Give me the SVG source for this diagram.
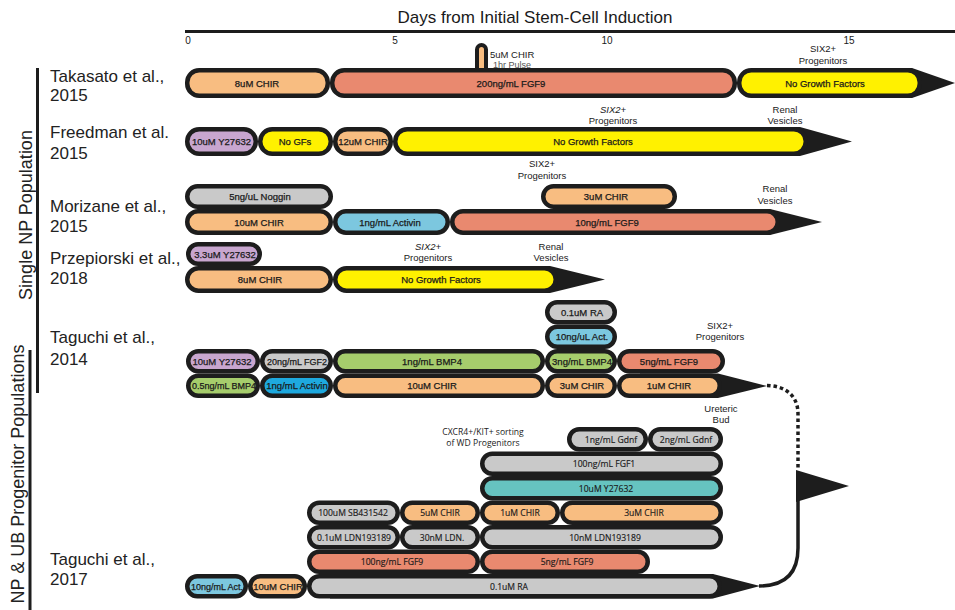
<svg xmlns="http://www.w3.org/2000/svg" width="955" height="610" viewBox="0 0 955 610">
<style>
.p{stroke:#1d1d1d;stroke-width:4.5}
.or{fill:#f8bd81}.sa{fill:#e9896f}.ye{fill:#fff100}.gr{fill:#c9c9c9}.pu{fill:#c8a6cf}
.lb{fill:#7cc7df}.bb{fill:#1ea9df}.gn{fill:#a6cd6c}.te{fill:#66c3c0}
.ar{fill:#1d1d1d}
text{font-family:"Liberation Sans",Arial,sans-serif;fill:#1a1a1a}
.t{font-size:9.5px;text-anchor:middle;stroke:#1a1a1a;stroke-width:0.25}
.ts{font-size:9px;text-anchor:middle;stroke:#1a1a1a;stroke-width:0.25}
.tm{font-family:"Open Sans","Liberation Sans",sans-serif;font-size:8.6px;text-anchor:middle;stroke:#1a1a1a;stroke-width:0.15}
.an{font-size:9.5px;text-anchor:middle}
.st{font-size:17px;fill:#222}
.sd{font-size:18px;fill:#222;text-anchor:middle}
.tk{font-size:10px;text-anchor:middle}
.ln{stroke:#1d1d1d;stroke-width:3;fill:none}
</style>

<!-- axis -->
<g id="axis">
<text x="535" y="23" style="font-size:17px;text-anchor:middle">Days from Initial Stem-Cell Induction</text>
<line x1="185" y1="31.5" x2="955" y2="31.5" class="ln"/>
<text class="tk" x="188" y="44">0</text>
<text class="tk" x="395" y="44">5</text>
<text class="tk" x="607" y="44">10</text>
<text class="tk" x="849" y="44">15</text>
</g>

<!-- side brackets -->
<g id="groups">
<line x1="37.5" y1="68" x2="37.5" y2="393" class="ln"/>
<line x1="30" y1="350" x2="30" y2="610" class="ln"/>
<text class="sd" transform="translate(32,215) rotate(-90)">Single NP Population</text>
<text class="sd" transform="translate(24,474) rotate(-90)">NP &amp; UB Progenitor Populations</text>
</g>

<!-- study labels -->
<g id="studies">
<text class="st" x="50" y="82">Takasato et al.,</text><text class="st" x="50" y="101">2015</text>
<text class="st" x="50" y="138">Freedman et al.</text><text class="st" x="50" y="159">2015</text>
<text class="st" x="50" y="211.5">Morizane et al.,</text><text class="st" x="50" y="232">2015</text>
<text class="st" x="50" y="264">Przepiorski et al.,</text><text class="st" x="50" y="284">2018</text>
<text class="st" x="50" y="343">Taguchi et al.,</text><text class="st" x="50" y="365">2014</text>
<text class="st" x="50" y="565">Taguchi et al.,</text><text class="st" x="50" y="585">2017</text>
</g>

<!-- timeline arrowheads -->
<g id="timeline-arrows">
<path class="ar" d="M760 68 L912 68 L955 83 L912 98 L760 98 Z"/>
<path class="ar" d="M420 127 L800 127 L852 141.5 L800 156 L420 156 Z"/>
<path class="ar" d="M470 209 L770 209 L822 222 L770 235 L470 235 Z"/>
<path class="ar" d="M350 266 L550 266 L605 279.5 L550 293 L350 293 Z"/>
<path class="ar" d="M640 373.5 L718 373.5 L767 386 L718 398 L640 398 Z"/>
<path class="ar" d="M330 574 L713 574 L760 586 L713 598.5 L330 598.5 Z"/>
</g>

<!-- connectors -->
<g id="connectors">
<path d="M767 385.5 C786 386 798 396 798 414 L798 470" fill="none" stroke="#1d1d1d" stroke-width="3.5" stroke-dasharray="3.5 3"/>
<path d="M759 586 C786 586 798 572 798 548 L798 498" class="ln" style="stroke-width:3.5"/>
<path class="ar" d="M796 470 L849 486 L796 502 Z"/>
</g>

<!-- Takasato 2015 -->
<g id="tak-pulse"><rect class="p or" x="477" y="45" width="9" height="32" rx="4.5" style="stroke-width:4"/>
<text x="490" y="57.5" style="font-size:9.5px">5uM CHIR</text><text x="493" y="67.5" style="font-size:9px;fill:#555">1hr Pulse</text></g>
<g id="tak-chir"><rect class="p or" x="187.25" y="70.25" width="140.5" height="25.5" rx="12"/><text class="t" x="257" y="86.5">8uM CHIR</text></g>
<g id="tak-fgf9"><rect class="p sa" x="332.25" y="70.25" width="402.5" height="25.5" rx="12"/><text class="t" x="511" y="86.5">200ng/mL FGF9</text></g>
<g id="tak-ngf"><rect class="p ye" x="739.25" y="70.25" width="180.5" height="25.5" rx="12"/><text class="t" x="825" y="86.5">No Growth Factors</text></g>
<g id="tak-ann"><text class="an" x="823" y="52">SIX2+</text><text class="an" x="823" y="63.5">Progenitors</text></g>

<!-- Freedman 2015 -->
<g id="fre-y"><rect class="p pu" x="187.25" y="129.25" width="68.5" height="24.5" rx="12"/><text class="t" x="221.5" y="145">10uM Y27632</text></g>
<g id="fre-nogf"><rect class="p ye" x="260.25" y="129.25" width="70.5" height="24.5" rx="12"/><text class="t" x="295" y="145">No GFs</text></g>
<g id="fre-chir"><rect class="p or" x="335.25" y="129.25" width="55.5" height="24.5" rx="12"/><text class="t" x="363" y="145">12uM CHIR</text></g>
<g id="fre-ngf"><rect class="p ye" x="395.25" y="129.25" width="410.5" height="24.5" rx="12"/><text class="t" x="593" y="145">No Growth Factors</text></g>
<g id="fre-ann"><text class="an" x="613" y="113" font-style="italic">SIX2+</text><text class="an" x="613" y="124">Progenitors</text>
<text class="an" x="785" y="113">Renal</text><text class="an" x="785" y="124">Vesicles</text></g>

<!-- Morizane 2015 -->
<g id="mor-noggin"><rect class="p gr" x="187.25" y="186.25" width="143.5" height="20.5" rx="10.25"/><text class="t" x="260" y="200">5ng/uL Noggin</text></g>
<g id="mor-3chir"><rect class="p or" x="543.25" y="186.25" width="131.5" height="20.5" rx="10.25"/><text class="t" x="606" y="200">3uM CHIR</text></g>
<g id="mor-chir"><rect class="p or" x="187.25" y="211.25" width="143.5" height="21.5" rx="10.75"/><text class="t" x="259" y="225.5">10uM CHIR</text></g>
<g id="mor-act"><rect class="p lb" x="335.25" y="211.25" width="112.5" height="21.5" rx="10.75"/><text class="t" x="390" y="225.5">1ng/mL Activin</text></g>
<g id="mor-fgf9"><rect class="p sa" x="452.25" y="211.25" width="325.5" height="21.5" rx="10.75"/><text class="t" x="607" y="225.5">10ng/mL FGF9</text></g>
<g id="mor-ann"><text class="an" x="542" y="167">SIX2+</text><text class="an" x="542" y="179">Progenitors</text>
<text class="an" x="775" y="192">Renal</text><text class="an" x="775" y="203.5">Vesicles</text></g>

<!-- Przepiorski 2018 -->
<g id="prz-y"><rect class="p pu" x="188.25" y="244.25" width="71.5" height="19.5" rx="9.75"/><text class="t" x="225" y="257.5">3.3uM Y27632</text></g>
<g id="prz-chir"><rect class="p or" x="187.25" y="268.25" width="143.5" height="22.5" rx="11.25"/><text class="t" x="260" y="283">8uM CHIR</text></g>
<g id="prz-ngf"><rect class="p ye" x="335.25" y="268.25" width="220.5" height="22.5" rx="11.25"/><text class="t" x="441" y="283">No Growth Factors</text></g>
<g id="prz-ann"><text class="an" x="428" y="249.5" font-style="italic">SIX2+</text><text class="an" x="428" y="261">Progenitors</text>
<text class="an" x="551" y="249.5">Renal</text><text class="an" x="551" y="261">Vesicles</text></g>

<!-- Taguchi 2014 -->
<g id="t14-ra"><rect class="p gr" x="547.25" y="302.25" width="67.5" height="20" rx="10"/><text class="t" x="582" y="315.7">0.1uM RA</text></g>
<g id="t14-act2"><rect class="p lb" x="547.25" y="326.75" width="67.5" height="20" rx="10"/><text class="t" x="582" y="340.2">10ng/uL Act.</text></g>
<g id="t14-y"><rect class="p pu" x="188.25" y="351.25" width="69.5" height="20" rx="10"/><text class="t" x="222" y="364.7">10uM Y27632</text></g>
<g id="t14-fgf2"><rect class="p gr" x="262.25" y="351.25" width="68.5" height="20" rx="10"/><text class="ts" x="297" y="364.7">20ng/mL FGF2</text></g>
<g id="t14-bmp1"><rect class="p gn" x="335.25" y="351.25" width="207.5" height="20" rx="10"/><text class="t" x="432" y="364.7">1ng/mL BMP4</text></g>
<g id="t14-bmp3"><rect class="p gn" x="547.25" y="351.25" width="67.5" height="20" rx="10"/><text class="t" x="582" y="364.7">3ng/mL BMP4</text></g>
<g id="t14-fgf9"><rect class="p sa" x="619.25" y="351.25" width="103.5" height="20" rx="10"/><text class="t" x="669" y="364.7">5ng/mL FGF9</text></g>
<g id="t14-bmp05"><rect class="p gn" x="188.25" y="375.75" width="69.5" height="20" rx="10"/><text class="ts" x="224" y="389.2">0.5ng/mL BMP4</text></g>
<g id="t14-act"><rect class="p bb" x="262.25" y="375.75" width="68.5" height="20" rx="10"/><text class="t" x="297" y="389.2">1ng/mL Activin</text></g>
<g id="t14-chir10"><rect class="p or" x="335.25" y="375.75" width="207.5" height="20" rx="10"/><text class="t" x="432" y="389.2">10uM CHIR</text></g>
<g id="t14-chir3"><rect class="p or" x="547.25" y="375.75" width="67.5" height="20" rx="10"/><text class="t" x="582" y="389.2">3uM CHIR</text></g>
<g id="t14-chir1"><rect class="p or" x="619.25" y="375.75" width="100.5" height="20" rx="10"/><text class="t" x="669" y="389.2">1uM CHIR</text></g>
<g id="t14-ann"><text class="an" x="720" y="328.5">SIX2+</text><text class="an" x="720" y="340">Progenitors</text></g>

<!-- Taguchi 2017 -->
<g id="t17-gdnf1"><rect class="p gr" x="569.25" y="429.25" width="76.5" height="20" rx="10"/><text class="tm" x="611" y="442.5">1ng/mL Gdnf</text></g>
<g id="t17-gdnf2"><rect class="p gr" x="650.25" y="429.25" width="70.5" height="20" rx="10"/><text class="tm" x="686" y="442.5">2ng/mL Gdnf</text></g>
<g id="t17-fgf1"><rect class="p gr" x="482.25" y="453.75" width="238.5" height="20" rx="10"/><text class="tm" x="604" y="467">100ng/mL FGF1</text></g>
<g id="t17-y"><rect class="p te" x="482.25" y="478.25" width="238.5" height="20" rx="10"/><text class="tm" x="606" y="491.5">10uM Y27632</text></g>
<g id="t17-sb"><rect class="p gr" x="309.25" y="502.75" width="88.5" height="20" rx="10"/><text class="tm" x="353" y="516">100uM SB431542</text></g>
<g id="t17-chir5"><rect class="p or" x="402.25" y="502.75" width="75.5" height="20" rx="10"/><text class="tm" x="440" y="516">5uM CHIR</text></g>
<g id="t17-chir1"><rect class="p or" x="482.25" y="502.75" width="75.5" height="20" rx="10"/><text class="tm" x="520" y="516">1uM CHIR</text></g>
<g id="t17-chir3"><rect class="p or" x="562.25" y="502.75" width="158.5" height="20" rx="10"/><text class="tm" x="644" y="516">3uM CHIR</text></g>
<g id="t17-ldn01"><rect class="p gr" x="309.25" y="527.25" width="88.5" height="20" rx="10"/><text class="tm" x="354" y="540.5">0.1uM LDN193189</text></g>
<g id="t17-ldn30"><rect class="p gr" x="402.25" y="527.25" width="75.5" height="20" rx="10"/><text class="tm" x="442" y="540.5">30nM LDN.</text></g>
<g id="t17-ldn10"><rect class="p gr" x="482.25" y="527.25" width="238.5" height="20" rx="10"/><text class="tm" x="605" y="540.5">10nM LDN193189</text></g>
<g id="t17-fgf9a"><rect class="p sa" x="309.25" y="551.75" width="168.5" height="20" rx="10"/><text class="tm" x="392" y="565">100ng/mL FGF9</text></g>
<g id="t17-fgf9b"><rect class="p sa" x="482.25" y="551.75" width="165.5" height="20" rx="10"/><text class="tm" x="567" y="565">5ng/mL FGF9</text></g>
<g id="t17-act"><rect class="p lb" x="187.25" y="576.25" width="58.5" height="20" rx="10"/><text class="ts" x="217" y="589.5">10ng/mL Act.</text></g>
<g id="t17-chir10"><rect class="p or" x="250.25" y="576.25" width="54.5" height="20" rx="10"/><text class="t" x="278" y="589.5">10uM CHIR</text></g>
<g id="t17-ra"><rect class="p gr" x="309.25" y="576.25" width="410.5" height="20" rx="10"/><text class="tm" x="509" y="589.5">0.1uM RA</text></g>
<g id="t17-ann"><text class="tm" x="483" y="435" style="stroke:none">CXCR4+/KIT+ sorting</text><text class="tm" x="483" y="445.5" style="stroke:none">of WD Progenitors</text>
<text class="an" x="721" y="412">Ureteric</text><text class="an" x="721" y="423">Bud</text></g>
</svg>
